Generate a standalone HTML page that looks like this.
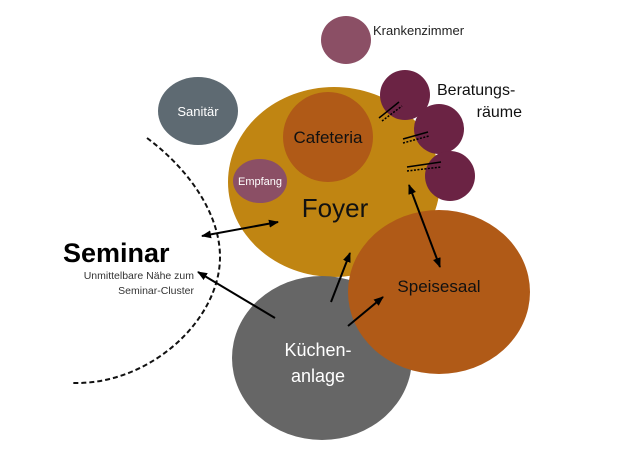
<!DOCTYPE html>
<html><head><meta charset="utf-8"><style>
html,body{margin:0;padding:0;background:#fff;width:640px;height:452px;overflow:hidden}
svg{display:block}
text{font-family:"Liberation Sans",sans-serif}
</style></head><body>
<svg width="640" height="452" viewBox="0 0 640 452" xmlns="http://www.w3.org/2000/svg">
<defs>
<marker id="a" markerWidth="10" markerHeight="8" refX="9" refY="4" orient="auto-start-reverse" markerUnits="userSpaceOnUse">
<path d="M0,0 L10,4 L0,8 z" fill="#000"/></marker>
</defs>
<path d="M147,138 C190,170 220,215 220,257 C220,320 150,385 73,383" fill="none" stroke="#111" stroke-width="2" stroke-dasharray="5,3"/>
<ellipse cx="346" cy="40" rx="25" ry="24" fill="#8B4F65"/>
<ellipse cx="198" cy="111" rx="40" ry="34" fill="#5E6A72"/>
<ellipse cx="334" cy="182" rx="106" ry="95" fill="#C08512"/>
<circle cx="328" cy="137" r="45" fill="#B05A17"/>
<ellipse cx="260" cy="181" rx="27" ry="22" fill="#8B4F65"/>
<circle cx="405" cy="95" r="25" fill="#6B2344"/>
<circle cx="439" cy="129" r="25" fill="#6B2344"/>
<circle cx="450" cy="176" r="25" fill="#6B2344"/>
<ellipse cx="322" cy="358" rx="90" ry="82" fill="#666666"/>
<ellipse cx="439" cy="292" rx="91" ry="82" fill="#B05A17"/>
<g stroke="#000" stroke-width="1.5">
<line x1="379" y1="118" x2="399" y2="102"/>
<line x1="382" y1="121" x2="402" y2="106" stroke-dasharray="2,1.5"/>
<line x1="403" y1="139" x2="428" y2="132"/>
<line x1="403" y1="143" x2="429" y2="136" stroke-dasharray="2,1.5"/>
<line x1="407" y1="167" x2="441" y2="162"/>
<line x1="407" y1="171" x2="441" y2="167" stroke-dasharray="2,1.5"/>
</g>
<g stroke="#000" stroke-width="2" fill="none">
<line x1="202" y1="236" x2="278" y2="222" marker-start="url(#a)" marker-end="url(#a)"/>
<line x1="275" y1="318" x2="198" y2="272" marker-end="url(#a)"/>
<line x1="331" y1="302" x2="350" y2="253" marker-end="url(#a)"/>
<line x1="348" y1="326" x2="383" y2="297" marker-end="url(#a)"/>
<line x1="409" y1="185" x2="440" y2="267" marker-start="url(#a)" marker-end="url(#a)"/>
</g>
<text x="373" y="35" font-size="13" fill="#222">Krankenzimmer</text>
<text x="198" y="116" font-size="13" fill="#fff" text-anchor="middle">Sanitär</text>
<text x="328" y="143" font-size="17" fill="#111" text-anchor="middle">Cafeteria</text>
<text x="260" y="185" font-size="11" fill="#fff" text-anchor="middle">Empfang</text>
<text x="335" y="217" font-size="26" fill="#111" text-anchor="middle">Foyer</text>
<text x="437" y="95" font-size="16" fill="#111">Beratungs-</text>
<text x="522" y="117" font-size="16" fill="#111" text-anchor="end">räume</text>
<text x="439" y="292" font-size="17" fill="#111" text-anchor="middle">Speisesaal</text>
<text x="318" y="356" font-size="18" fill="#fff" text-anchor="middle">Küchen-</text>
<text x="318" y="382" font-size="18" fill="#fff" text-anchor="middle">anlage</text>
<text x="63" y="262" font-size="27" font-weight="bold" fill="#000">Seminar</text>
<text x="194" y="279" font-size="10.5" fill="#333" text-anchor="end">Unmittelbare Nähe zum</text>
<text x="194" y="294" font-size="10.5" fill="#333" text-anchor="end">Seminar-Cluster</text>
</svg>
</body></html>
